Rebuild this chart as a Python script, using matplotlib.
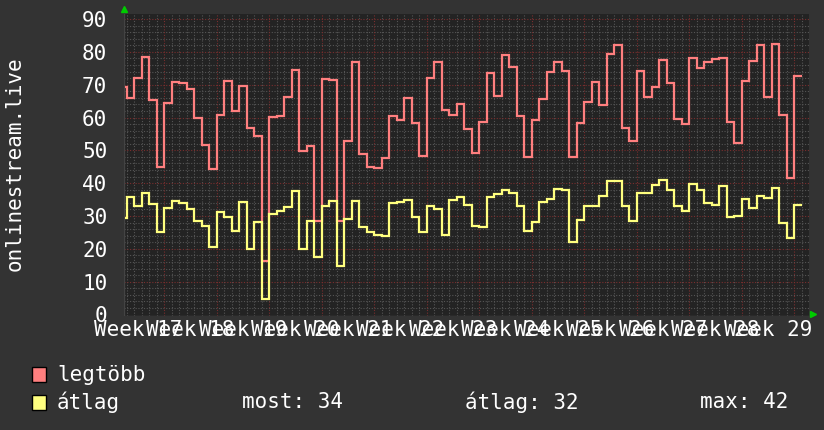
import numpy as np
import matplotlib
matplotlib.use("Agg")
import matplotlib.pyplot as plt

# daily values, day 0 = start of the second labelled week (first value is a partial day)
legtobb = [69.4, 65.8, 72.1, 78.4, 65.2, 45.0,
           64.5, 70.9, 70.4, 68.8, 60.0, 51.5, 44.2,
           60.8, 71.1, 61.9, 69.7, 56.7, 54.4, 16.2,
           60.3, 60.6, 66.1, 74.6, 49.8, 51.2, 28.6,
           71.8, 71.3, 28.4, 52.7, 77.0, 49.0, 45.0,
           44.5, 47.6, 60.4, 59.2, 65.8, 58.2, 48.4,
           72.1, 77.0, 62.2, 60.8, 64.2, 56.4, 49.2,
           58.5, 73.5, 66.6, 78.9, 75.4, 60.5, 48.1,
           59.2, 65.5, 73.9, 76.9, 74.2, 48.1, 58.2,
           64.8, 70.9, 63.8, 79.2, 82.0, 56.7, 52.9,
           74.2, 66.1, 69.3, 77.5, 70.6, 59.5, 58.0,
           78.2, 75.2, 76.9, 77.7, 78.2, 58.5, 52.1,
           71.1, 77.2, 82.0, 66.3, 82.5, 60.8, 41.7,
           72.6]
atlag = [29.4, 35.7, 32.9, 36.9, 33.6, 25.0,
         32.3, 34.7, 34.1, 32.1, 28.6, 27.1, 20.5,
         31.1, 29.8, 25.5, 34.4, 20.0, 28.1, 4.6,
         30.5, 31.4, 32.8, 37.5, 19.9, 28.6, 17.4,
         32.9, 34.7, 14.9, 29.1, 34.7, 26.5, 25.0,
         24.3, 24.0, 34.0, 34.4, 34.8, 29.6, 25.0,
         32.9, 32.1, 24.3, 35.0, 35.7, 33.4, 27.1,
         26.5, 35.9, 36.7, 37.9, 36.9, 33.1, 25.3,
         28.1, 34.4, 35.3, 38.2, 38.0, 22.0, 28.9,
         33.1, 33.1, 36.0, 40.7, 40.7, 33.1, 28.6,
         37.1, 36.9, 39.4, 41.0, 38.0, 33.1, 31.6,
         39.6, 38.0, 33.9, 33.5, 39.0, 29.8, 30.1,
         35.3, 32.3, 36.0, 35.4, 38.6, 27.9, 23.4,
         33.5]
weeks = list(range(17, 30))
week_labels = ["Week %d" % w for w in weeks]

edges = np.concatenate([[-5.2], np.arange(-5, 86)])
week_centers = [-3.5 + 7 * i for i in range(len(weeks))]

mono = "DejaVu Sans Mono"
fs = 15
bg = "#333333"

fig = plt.figure(figsize=(8.24, 4.30), dpi=100, facecolor=bg)
ax = fig.add_axes([124 / 824, 114 / 430, 685 / 824, 302 / 430])
ax.set_facecolor("#232323")
ax.set_xlim(-5.37, 85.97)
ax.set_ylim(-0.46, 91.53)

# grid
for d in range(-5, 86):
    if d % 7 == 0:
        continue
    ax.axvline(d, color="#555555", lw=0.8, ls=(0, (1, 1.5)), zorder=1)
for v in range(2, 92, 2):
    if v % 10 == 0:
        continue
    ax.axhline(v, color="#555555", lw=0.8, ls=(0, (1, 1.5)), zorder=1)
for d in range(0, 86, 7):
    ax.axvline(d, color="#7a2e2e", lw=0.8, ls=(0, (1, 1.5)), zorder=1)
for v in range(10, 91, 10):
    ax.axhline(v, color="#7a2e2e", lw=0.8, ls=(0, (1, 1.5)), zorder=1)

ax.stairs(legtobb, edges, baseline=None, color="#ff7f7f", lw=1.6, zorder=3)
ax.stairs(atlag, edges, baseline=None, color="#ffff7f", lw=1.6, zorder=3)

for s in ax.spines.values():
    s.set_visible(False)
ax.axhline(-0.46, color="#444444", lw=1, zorder=2)
ax.axvline(-5.37, color="#444444", lw=1, zorder=2)

ax.set_yticks(range(0, 91, 10))
ax.set_yticklabels([str(v) for v in range(0, 91, 10)], fontfamily=mono,
                   fontsize=fs, color="white")
ax.set_xticks(week_centers)
ax.set_xticklabels(week_labels, fontfamily=mono, fontsize=fs, color="white")
ax.tick_params(axis="y", length=0, pad=12)
ax.tick_params(axis="x", length=0, pad=3)

# axis arrows
ax.plot([124 / 824], [1 - 9 / 430], marker="^", color="#00cc00", ms=5,
        transform=fig.transFigure, clip_on=False)
ax.plot([813 / 824], [1 - 314 / 430], marker=">", color="#00cc00", ms=5,
        transform=fig.transFigure, clip_on=False)

fig.text(15 / 824, 1 - 164 / 430, "onlinestream.live", rotation=90,
         ha="center", va="center", fontfamily=mono, fontsize=fs, color="white")

# legend
fig.patches.append(plt.Rectangle((32 / 824, 1 - 382 / 430), 14 / 824, 15 / 430,
                                 transform=fig.transFigure, facecolor="#ff7f7f",
                                 edgecolor="black", lw=1))
fig.patches.append(plt.Rectangle((32 / 824, 1 - 410 / 430), 14 / 824, 15 / 430,
                                 transform=fig.transFigure, facecolor="#ffff7f",
                                 edgecolor="black", lw=1))
fig.text(57 / 824, 1 - 375 / 430, "legtöbb", va="center", fontfamily=mono,
         fontsize=fs, color="white")
fig.text(57 / 824, 1 - 402 / 430, "átlag", va="center", fontfamily=mono,
         fontsize=fs, color="white")
fig.text(242 / 824, 1 - 402 / 430, "most: 34", va="center", fontfamily=mono,
         fontsize=fs, color="white")
fig.text(465 / 824, 1 - 402 / 430, "átlag: 32", va="center", fontfamily=mono,
         fontsize=fs, color="white")
fig.text(700 / 824, 1 - 402 / 430, "max: 42", va="center", fontfamily=mono,
         fontsize=fs, color="white")

fig.savefig("out.png", dpi=100, facecolor=bg)
